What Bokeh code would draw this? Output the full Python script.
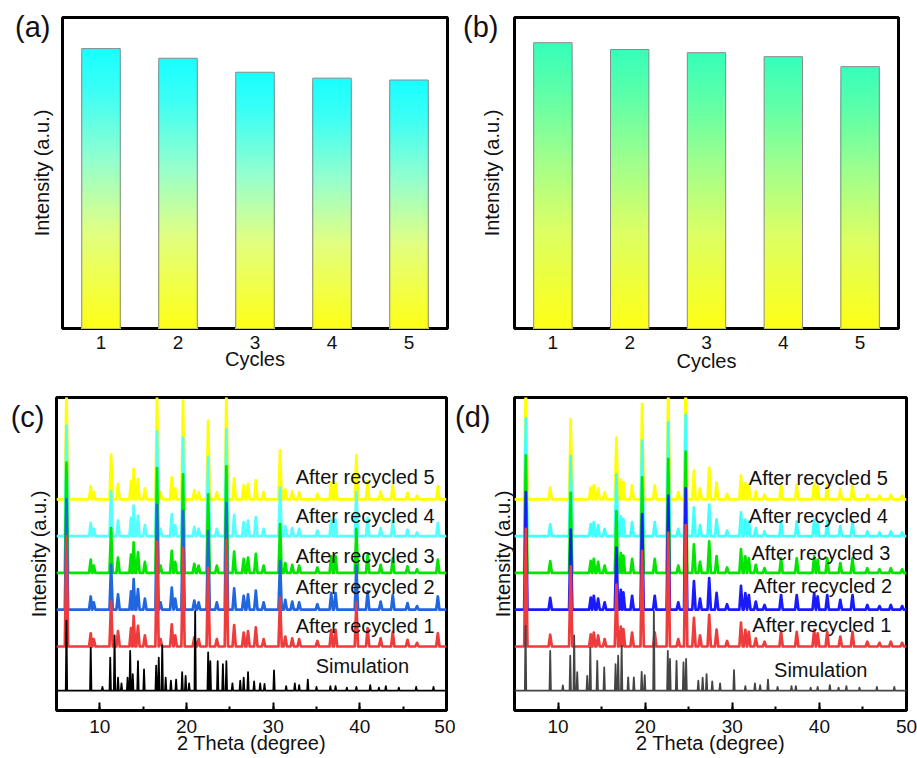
from bokeh.plotting import figure
from bokeh.layouts import column, row
from bokeh.models import Range1d, FixedTicker, SingleIntervalTicker, ColumnDataSource
from bokeh.core.properties import value
from bokeh.embed import file_html
from bokeh.resources import INLINE

# ---------------- data ----------------
cycles = [1, 2, 3, 4, 5]
intensity_a = [90.0, 86.9, 82.4, 80.5, 79.9]
intensity_b = [91.9, 89.7, 88.7, 87.4, 84.2]

series_names = ["Simulation", "After recycled 1", "After recycled 2",
                "After recycled 3", "After recycled 4", "After recycled 5"]
offsets = [0.0, 1.2, 2.2, 3.2, 4.2, 5.2]

sim_c_pos = [6.15, 8.95, 10.3, 11.2, 11.7, 12.1, 12.5, 13.2, 13.5, 13.8, 14.4, 15.1, 16.5, 16.8,
             17.2, 17.6, 18.2, 18.8, 19.5, 19.9, 20.3, 21.0, 22.5, 22.75, 23.6, 24.2, 24.6, 25.3,
             26.2, 26.6, 27.1, 27.8, 28.5, 29.0, 30.1, 31.5, 32.5, 33.0, 34.0, 35.0, 36.6, 37.2,
             38.5, 39.6, 41.2, 42.2, 43.0, 44.5, 46.5, 48.5]
sim_c_h = [1.9, 1.17, 0.1, 0.9, 1.5, 0.35, 0.2, 0.35, 1.08, 0.45, 0.8, 0.58, 0.68, 0.9,
           1.24, 0.35, 0.27, 0.3, 0.5, 0.4, 0.2, 2.16, 1.04, 0.8, 0.8, 0.72, 0.8, 0.2,
           0.27, 0.35, 0.5, 0.25, 0.2, 0.18, 0.55, 0.12, 0.2, 0.15, 0.3, 0.1, 0.12, 0.12,
           0.08, 0.1, 0.15, 0.08, 0.12, 0.08, 0.1, 0.1]
exp_c_pos = [6.15, 8.95, 9.3, 11.3, 12.1, 13.6, 13.9, 14.4, 15.2, 16.6, 17.0, 18.3, 18.7, 19.6,
             20.9, 21.4, 22.5, 23.5, 24.6, 25.5, 26.6, 27.1, 28.0, 28.9, 30.8, 31.4, 32.2, 33.0,
             35.1, 36.7, 37.2, 39.6, 40.9, 42.4, 43.8, 45.5, 46.6, 49.0]
exp_c_h = [3.0, 0.36, 0.2, 1.22, 0.42, 0.5, 0.83, 0.56, 0.3, 2.85, 0.2, 0.6, 0.3, 2.68,
           0.25, 0.2, 2.14, 0.2, 2.9, 0.58, 0.38, 0.42, 0.52, 0.2, 1.33, 0.27, 0.22, 0.2,
           0.15, 0.45, 0.45, 1.2, 0.5, 0.22, 0.4, 0.18, 0.1, 0.36]
sim_d_pos = [6.27, 9.1, 10.55, 11.4, 11.85, 12.2, 13.35, 13.7, 14.5, 15.3, 16.6, 16.9, 17.3, 18.05,
             18.7, 19.6, 19.95, 21.0, 22.6, 22.85, 23.6, 24.4, 24.7, 26.1, 26.6, 27.05, 27.7, 28.6,
             30.2, 31.5, 32.6, 33.2, 34.1, 35.2, 36.8, 37.3, 39.0, 39.8, 41.2, 42.2, 43.1, 44.6,
             46.6, 48.6]
sim_d_h = [1.76, 1.08, 0.14, 0.95, 1.5, 0.5, 0.4, 1.17, 0.81, 0.63, 0.72, 0.95, 1.22, 0.36,
           0.36, 0.51, 0.42, 2.16, 1.08, 0.86, 0.81, 0.77, 0.86, 0.27, 0.35, 0.45, 0.25, 0.2,
           0.56, 0.12, 0.2, 0.15, 0.3, 0.1, 0.12, 0.12, 0.08, 0.1, 0.15, 0.08, 0.12, 0.08,
           0.1, 0.1]
exp_d_pos = [6.3, 9.1, 11.45, 13.75, 14.1, 14.6, 15.35, 16.7, 17.2, 17.5, 18.5, 19.65, 21.1, 22.65,
             23.8, 24.65, 25.6, 26.3, 27.35, 28.2, 29.4, 31.0, 31.5, 31.9, 32.7, 33.7, 35.6, 37.4,
             39.4, 39.8, 40.9, 42.4, 43.8, 45.5, 46.9, 48.2, 49.5]
exp_d_h = [3.2, 0.32, 2.18, 0.33, 0.38, 0.3, 0.2, 1.68, 0.54, 0.47, 0.38, 2.6, 0.38, 3.1,
           0.2, 3.3, 0.78, 0.3, 0.86, 0.46, 0.15, 0.65, 0.45, 0.4, 0.22, 0.13, 0.4, 0.4,
           0.45, 0.36, 0.4, 0.27, 0.4, 0.13, 0.1, 0.13, 0.1]

label_c_x = [34.9, 32.6, 32.6, 32.6, 32.6, 32.6]
label_c_y = [0.68, 1.76, 2.81, 3.66, 4.74, 5.82]
label_d_x = [34.8, 32.3, 32.4, 32.2, 31.9, 31.9]
label_d_y = [0.55, 1.79, 2.85, 3.73, 4.76, 5.79]

colors_c = ["#000000", "#EE3B3B", "#1F66E0", "#00E600", "#55FFFF", "#FFFF00"]
colors_d = ["#444444", "#EE3B3B", "#1A1AFF", "#00E600", "#40FFFF", "#FFFF00"]

grad_a = [(0.0, "#FFFF14"), (0.35, "#E1FF82"), (0.6, "#96FFCD"), (0.85, "#3CFFF5"), (1.0, "#19FFFF")]
grad_b = [(0.0, "#FFFF14"), (0.35, "#DCFF64"), (0.6, "#A0FF8C"), (0.85, "#5AFFAA"), (1.0, "#37FFB9")]

assert len(sim_c_pos) == len(sim_c_h) and len(exp_c_pos) == len(exp_c_h)
assert len(sim_d_pos) == len(sim_d_h) and len(exp_d_pos) == len(exp_d_h)

FONT = "Liberation Sans"
TXT = "#111111"


def hex_rgb(h):
    h = h.lstrip("#")
    return tuple(int(h[i:i + 2], 16) for i in (0, 2, 4))


def grad_color(stops, t):
    for (t0, c0), (t1, c1) in zip(stops[:-1], stops[1:]):
        if t <= t1:
            f = (t - t0) / (t1 - t0)
            a, b = hex_rgb(c0), hex_rgb(c1)
            return "#%02x%02x%02x" % tuple(int(round(a[k] + (b[k] - a[k]) * f)) for k in range(3))
    return stops[-1][1]


def style_common(p, tag, tag_y, tag_so, ylab_so):
    p.outline_line_color = "black"
    p.outline_line_width = 3
    p.outline_line_alpha = 1.0
    p.grid.visible = False
    for ax in (p.xaxis[0], p.yaxis[0]):
        ax.axis_line_color = None
        ax.axis_label_text_font = FONT
        ax.axis_label_text_font_style = "normal"
        ax.axis_label_text_color = TXT
        ax.axis_label_text_font_size = "20px"
        ax.axis_label_text_line_height = 1.0
        ax.major_label_text_font = FONT
        ax.major_label_text_color = TXT
        ax.major_label_text_font_size = "19px"
        ax.major_label_text_line_height = 1.0
    # left axis: no ticks; the panel tag sits where its only tick label is
    yax = p.yaxis[0]
    yax.ticker = FixedTicker(ticks=[tag_y])
    yax.major_label_overrides = {tag_y: tag}
    yax.major_label_text_font_size = "29px"
    yax.major_tick_out = 0
    yax.major_tick_in = 0
    yax.minor_tick_out = 0
    yax.minor_tick_in = 0
    yax.major_tick_line_color = None
    yax.minor_tick_line_color = None
    yax.major_label_standoff = tag_so
    yax.axis_label = "Intensity (a.u.)"
    yax.axis_label_standoff = ylab_so


def bar_panel(vals, stops, tag, w, h, bl, br, bt, bb, tick_so, lab_so, ylab_so, tag_so):
    p = figure(width=w, height=h, x_range=Range1d(0.5, 5.5), y_range=Range1d(0, 100),
               output_backend="svg", toolbar_location=None,
               min_border_left=bl, min_border_right=br, min_border_top=bt, min_border_bottom=bb)
    n = 90
    L, R, T, C = [], [], [], []
    for c, v in zip(cycles, vals):
        for i in range(n, 0, -1):
            t = i / n
            L.append(c - 0.25)
            R.append(c + 0.25)
            T.append(v * t)
            C.append(grad_color(stops, t))
    src = ColumnDataSource(dict(left=L, right=R, top=T, color=C))
    p.quad(left="left", right="right", bottom=0, top="top", fill_color="color",
           line_color=None, source=src)
    p.vbar(x=cycles, top=vals, width=0.5, bottom=0, fill_color=None,
           line_color="#8a8a8a", line_width=1)
    style_common(p, tag, 96.8, tag_so, ylab_so)
    xax = p.xaxis[0]
    xax.ticker = FixedTicker(ticks=cycles)
    xax.major_tick_out = 0
    xax.major_tick_in = 0
    xax.minor_tick_out = 0
    xax.minor_tick_in = 0
    xax.major_label_standoff = tick_so
    xax.axis_label = "Cycles"
    xax.axis_label_standoff = lab_so
    return p


def profile(pos, hts, base, hw):
    pts = [(5.0, 0.0), (50.0, 0.0)]
    for x, hh in zip(pos, hts):
        pts += [(x - hw, 0.0), (x, hh), (x + hw, 0.0)]
    pts.sort()
    return [q[0] for q in pts], [base + q[1] for q in pts]


def xrd_panel(sim_pos, sim_h, exp_pos, exp_h, colors, lab_x, lab_y, tag,
              w, h, bl, br, bt, bb, tick_so, lab_so, ylab_so, tag_so):
    p = figure(width=w, height=h, x_range=Range1d(5, 50), y_range=Range1d(-0.54, 7.97),
               output_backend="svg", toolbar_location=None,
               min_border_left=bl, min_border_right=br, min_border_top=bt, min_border_bottom=bb)
    for k in range(5, -1, -1):
        if k == 0:
            xs, ys = profile(sim_pos, sim_h, offsets[0], 0.08)
            lw = 1.8
        else:
            xs, ys = profile(exp_pos, exp_h, offsets[k], 0.19)
            lw = 2.7
        p.line(xs, ys, line_color=colors[k], line_width=lw, line_join="round")
    p.text(x=lab_x, y=lab_y, text=series_names, text_font=value(FONT), text_font_size="20px",
           text_color=TXT, text_baseline="middle", text_align="left")
    style_common(p, tag, 7.43, tag_so, ylab_so)
    xax = p.xaxis[0]
    xax.ticker = SingleIntervalTicker(interval=10, num_minor_ticks=2)
    xax.major_tick_in = 8
    xax.major_tick_out = 0
    xax.minor_tick_in = 4
    xax.minor_tick_out = 0
    xax.major_tick_line_width = 2
    xax.minor_tick_line_width = 2
    xax.major_tick_line_color = "black"
    xax.minor_tick_line_color = "black"
    xax.major_label_standoff = tick_so
    xax.axis_label = "2 Theta (degree)"
    xax.axis_label_standoff = lab_so
    return p


pa = bar_panel(intensity_a, grad_a, "(a)", 455, 390, 62, 8, 17, 60, 7, -4, -41, 12)
pb = bar_panel(intensity_b, grad_b, "(b)", 462, 390, 59, 19, 17, 62, 7, -2, -43, 16)
pc = xrd_panel(sim_c_pos, sim_c_h, exp_c_pos, exp_c_h, colors_c, label_c_x, label_c_y, "(c)",
               455, 368, 56, 9, 7, 48, 9, -4, -42, 12)
pd = xrd_panel(sim_d_pos, sim_d_h, exp_d_pos, exp_d_h, colors_d, label_d_x, label_d_y, "(d)",
               462, 368, 59, 11, 7, 48, 9, -4, -62, 24)

layout = column(row(pa, pb, spacing=0), row(pc, pd, spacing=0), spacing=0)

open("out.html", "w").write(file_html(layout, INLINE))
